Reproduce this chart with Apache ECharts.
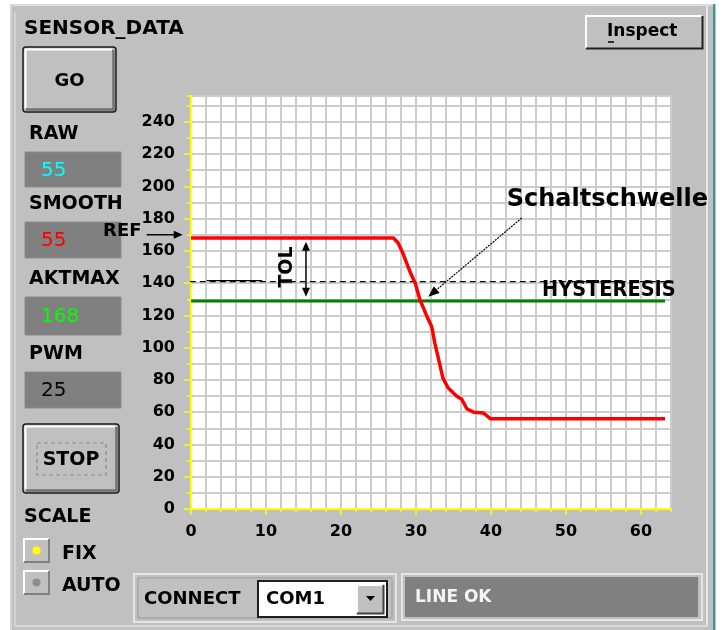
<!DOCTYPE html>
<html><head><meta charset="utf-8">
<script src="https://cdn.jsdelivr.net/npm/echarts@6/dist/echarts.min.js"></script>
<style>html,body{margin:0;padding:0;background:#fff;}#c{width:723px;height:630px;}</style>
</head><body><div id="c"></div>
<script>
// ---- data ----
const xTickLabels = [0, 10, 20, 30, 40, 50, 60];
const yTickLabels = [0, 20, 40, 60, 80, 100, 120, 140, 160, 180, 200, 220, 240];
const smoothX = [0, 27, 27.6, 28.3, 29.2, 29.9, 30.5, 31.4, 32.1, 32.5, 33, 33.6, 34.3, 35.4, 36.1, 36.8, 37.7, 39, 39.9, 63.2];
const smoothY = [168, 168, 165, 158, 147, 140, 130, 120, 113, 103, 93, 81, 75, 70, 68, 62, 60, 59.5, 56, 56];
const thresholdX = [0, 63.2];
const thresholdY = [129, 129];
const hysteresisX = [-1.5, 65.3];
const hysteresisY = [141, 141];
const hystSolidX = [2.1, 9.5];
const hystSolidY = [141.6, 141.6];
const readoutLabels = ['RAW', 'SMOOTH', 'AKTMAX', 'PWM'];
const readoutValues = ['55', '55', '168', '25'];
const readoutColors = ['#00ffff', '#ff0000', '#00ff00', '#000000'];
const refValue = 170;

const FONT = "'DejaVu Sans', 'Liberation Sans', sans-serif";
const zip = (xs, ys) => xs.map((x, i) => [x, ys[i]]);

const chart = echarts.init(document.getElementById('c'), null, {renderer: 'canvas'});

const yellow = '#ffff00';
const gridColor = '#cccccc';

chart.setOption({
  animation: false,
  backgroundColor: '#c0c0c0',
  grid: {left: 191, top: 96, width: 480, height: 413, show: true, backgroundColor: '#ffffff', borderWidth: 0, containLabel: false},
  xAxis: [
    {type: 'value', min: 0, max: 64, interval: 2, position: 'bottom',
      axisLine: {show: true, lineStyle: {color: yellow, width: 2}},
      axisTick: {show: true, length: 3, lineStyle: {color: yellow, width: 1.5}},
      axisLabel: {show: false},
      splitLine: {show: true, lineStyle: {color: gridColor, width: 2}}},
    {type: 'value', min: 0, max: 64, interval: 10, position: 'bottom',
      axisLine: {show: false},
      axisTick: {show: true, length: 6, customValues: xTickLabels, lineStyle: {color: yellow, width: 1.5}},
      axisLabel: {show: true, margin: 15, customValues: xTickLabels,
        formatter: v => (xTickLabels.indexOf(v) >= 0 ? String(v) : ''),
        color: '#000', fontFamily: FONT, fontWeight: 'bold', fontSize: 16},
      splitLine: {show: false}}
  ],
  yAxis: [
    {type: 'value', min: 0, max: 256, interval: 10, position: 'left',
      axisLine: {show: true, lineStyle: {color: yellow, width: 2}},
      axisTick: {show: true, length: 4, lineStyle: {color: yellow, width: 1.5}},
      axisLabel: {show: false},
      splitLine: {show: true, lineStyle: {color: gridColor, width: 2}}},
    {type: 'value', min: 0, max: 256, interval: 20, position: 'left',
      axisLine: {show: false},
      axisTick: {show: true, length: 7, customValues: yTickLabels, lineStyle: {color: yellow, width: 1.5}},
      axisLabel: {show: true, margin: 16, customValues: yTickLabels,
        formatter: v => (yTickLabels.indexOf(v) >= 0 ? String(v) : ''),
        color: '#000', fontFamily: FONT, fontWeight: 'bold', fontSize: 16},
      splitLine: {show: false}}
  ],
  series: [
    {type: 'line', name: 'HYSTERESIS', data: zip(hysteresisX, hysteresisY), clip: false, symbol: 'none', z: 3,
      lineStyle: {color: '#000', width: 1.3, type: [6, 4]}},
    {type: 'line', name: 'HYST2', data: zip(hystSolidX, hystSolidY), symbol: 'none', z: 3,
      lineStyle: {color: '#000', width: 1.3}},
    {type: 'line', name: 'Schaltschwelle', data: zip(thresholdX, thresholdY), symbol: 'none', z: 4,
      lineStyle: {color: '#008000', width: 3}},
    {type: 'line', name: 'SMOOTH', data: zip(smoothX, smoothY), symbol: 'none', z: 5,
      lineStyle: {color: '#ff0000', width: 3.5, join: 'round'}}
  ]
});

// ---- chrome / annotations ----
const px = p => chart.convertToPixel({xAxisIndex: 0, yAxisIndex: 0}, p);
const G = [];
const txt = (x, y, text, size, opts) => {
  opts = opts || {};
  G.push({type: 'text', x: x, y: y, z: opts.z || 50, rotation: opts.rotation || 0,
    style: {text: text, fill: opts.fill || '#000', align: opts.align || 'left', verticalAlign: 'middle',
      font: (opts.weight || 'bold') + ' ' + size + 'px ' + (opts.family || FONT)}});
};
const line = (x1, y1, x2, y2, color, w, z, dash) => G.push({type: 'line', z: z || 10,
  shape: {x1: x1, y1: y1, x2: x2, y2: y2}, style: {stroke: color, lineWidth: w, lineDash: dash || null}});
const rect = (x, y, w, h, fill, stroke, lw, z, r) => G.push({type: 'rect', z: z || 5,
  shape: {x: x, y: y, width: w, height: h, r: r || 0}, style: {fill: fill || 'none', stroke: stroke || null, lineWidth: lw || 0}});
const arrowHead = (tip, from, len, half) => {
  const dx = tip[0] - from[0], dy = tip[1] - from[1];
  const d = Math.sqrt(dx * dx + dy * dy), ux = dx / d, uy = dy / d;
  const bx = tip[0] - ux * len, by = tip[1] - uy * len;
  G.push({type: 'polygon', z: 60, shape: {points: [tip, [bx - uy * half, by + ux * half], [bx + uy * half, by - ux * half]]},
    style: {fill: '#000'}});
};
const button = (x, y, w, h) => {
  rect(x, y, w, h, '#c0c0c0', '#1a1a1a', 1.5, 5, 3);
  G.push({type: 'polyline', z: 6, shape: {points: [[x + 2.5, y + h - 4], [x + 2.5, y + 2.5], [x + w - 4, y + 2.5]]}, style: {stroke: '#ffffff', lineWidth: 2, fill: null}});
  G.push({type: 'polyline', z: 6, shape: {points: [[x + 3, y + h - 2.5], [x + w - 2.5, y + h - 2.5], [x + w - 2.5, y + 3]]}, style: {stroke: '#707070', lineWidth: 2.5, fill: null}});
};

// surroundings and frame
rect(0, 0, 723, 4, '#ffffff', null, 0, 1);
rect(0, 0, 10, 630, '#ffffff', null, 0, 1);
rect(716, 0, 7, 630, '#ffffff', null, 0, 1);
line(10, 5, 715, 5, '#dcdcdc', 2, 2);
line(11, 4, 11, 630, '#d6d6d6', 2, 2);
line(15, 12, 15, 626, '#e6e6e6', 1, 2);
line(707, 6, 707, 626, '#e6e6e6', 2, 2);
line(714, 4, 714, 630, '#2f9b9b', 2, 2);
line(15, 626, 707, 626, '#e2e2e2', 1.5, 2);

// left column
txt(24, 29, 'SENSOR_DATA', 20);
button(23, 47, 93, 65);
txt(69.5, 81, 'GO', 18, {align: 'center'});
const labelY = [134, 204, 279, 354];
const boxY = [152, 222, 297, 372];
const boxH = [35, 36, 38, 36];
readoutLabels.forEach((l, i) => {
  txt(29, labelY[i], l, 19);
  rect(25, boxY[i], 96, boxH[i], '#808080', '#8c8c8c', 1, 5);
  txt(41, boxY[i] + boxH[i] / 2 + 1, readoutValues[i], 20, {weight: 'normal', fill: readoutColors[i]});
});
button(23, 424, 96, 69);
rect(37, 443, 69, 32, null, '#8a8a8a', 1.2, 7);
G[G.length - 1].style.lineDash = [4, 3];
txt(71, 460, 'STOP', 19, {align: 'center'});
txt(24, 517, 'SCALE', 19);
[[538, '#ffff00', 'FIX', 554], [570, '#8e8e8e', 'AUTO', 586]].forEach(r => {
  rect(23, r[0], 27, 25, '#c0c0c0', null, 0, 5);
  G.push({type: 'polyline', z: 6, shape: {points: [[24, r[0] + 24], [24, r[0] + 1], [49, r[0] + 1]]}, style: {stroke: '#ffffff', lineWidth: 2, fill: null}});
  G.push({type: 'polyline', z: 6, shape: {points: [[24, r[0] + 24], [49, r[0] + 24], [49, r[0] + 1]]}, style: {stroke: '#808080', lineWidth: 2, fill: null}});
  G.push({type: 'circle', z: 7, shape: {cx: 36.5, cy: r[0] + 12.5, r: 4}, style: {fill: r[1]}});
  txt(62, r[3], r[2], 19);
});

// Inspect button
rect(585, 15, 118, 34, '#c0c0c0', null, 0, 5);
G.push({type: 'polyline', z: 6, shape: {points: [[586, 48], [586, 16], [702, 16]]}, style: {stroke: '#ffffff', lineWidth: 2, fill: null}});
G.push({type: 'polyline', z: 6, shape: {points: [[586, 48.5], [702.5, 48.5], [702.5, 16]]}, style: {stroke: '#202020', lineWidth: 2, fill: null}});
txt(607, 32, 'Inspect', 17);
line(608, 42, 614, 42, '#000', 1.5, 20);

// bottom panels
rect(134, 574, 262, 48, null, '#e4e4e4', 2, 5);
rect(138, 578, 254, 40, null, '#9a9a9a', 1, 5);
txt(144, 599, 'CONNECT', 18);
rect(258, 581, 129, 36, '#ffffff', '#1e1e1e', 2, 5);
rect(356, 584, 28, 30, '#c0c0c0', null, 0, 6);
G.push({type: 'polyline', z: 7, shape: {points: [[357, 613], [357, 585], [383, 585]]}, style: {stroke: '#ffffff', lineWidth: 2, fill: null}});
G.push({type: 'polyline', z: 7, shape: {points: [[357, 613.5], [383.5, 613.5], [383.5, 585]]}, style: {stroke: '#404040', lineWidth: 2, fill: null}});
G.push({type: 'polygon', z: 8, shape: {points: [[366, 596], [375, 596], [370.5, 601]]}, style: {fill: '#000'}});
txt(266, 599, 'COM1', 18);
rect(402, 574, 300, 46, null, '#e6e6e6', 2, 5);
rect(405, 577, 293, 40, '#808080', null, 0, 5);
txt(415, 598, 'LINE OK', 17, {fill: '#f4f4f4'});

// annotations anchored to data units
const refA = px([-5.9, refValue]), refB = px([-1.1, refValue]);
line(refA[0], refA[1], refB[0] - 6, refB[1], '#000', 1.5, 60);
arrowHead(refB, refA, 9, 4);
const refT = px([-6.6, 172]);
txt(refT[0], refT[1], 'REF', 18, {align: 'right'});

const tolTop = px([15.33, 165.7]), tolBot = px([15.33, 131.6]);
line(tolTop[0], tolTop[1] + 6, tolBot[0], tolBot[1] - 6, '#000', 1.5, 60);
arrowHead(tolTop, tolBot, 9, 4);
arrowHead(tolBot, tolTop, 9, 4);
const tolT = px([12.76, 150]);
txt(tolT[0], tolT[1], 'TOL', 19, {align: 'center', rotation: Math.PI / 2});

const sA = px([44.1, 180.4]), sB = px([31.64, 131.6]);
line(sA[0], sA[1], sB[0] + 6, sB[1] - 5, '#000', 1.2, 60, [2, 1]);
arrowHead(sB, sA, 11, 4.5);
const sT = px([42.1, 191.5]);
txt(sT[0], sT[1], 'Schaltschwelle', 24, {z: 70});
const hT = px([46.8, 135.2]);
txt(hT[0], hT[1], 'HYSTERESIS', 21.5, {family: "'DejaVu Sans Condensed', 'DejaVu Sans', sans-serif", z: 70});

chart.setOption({graphic: {elements: G}});
</script></body></html>
